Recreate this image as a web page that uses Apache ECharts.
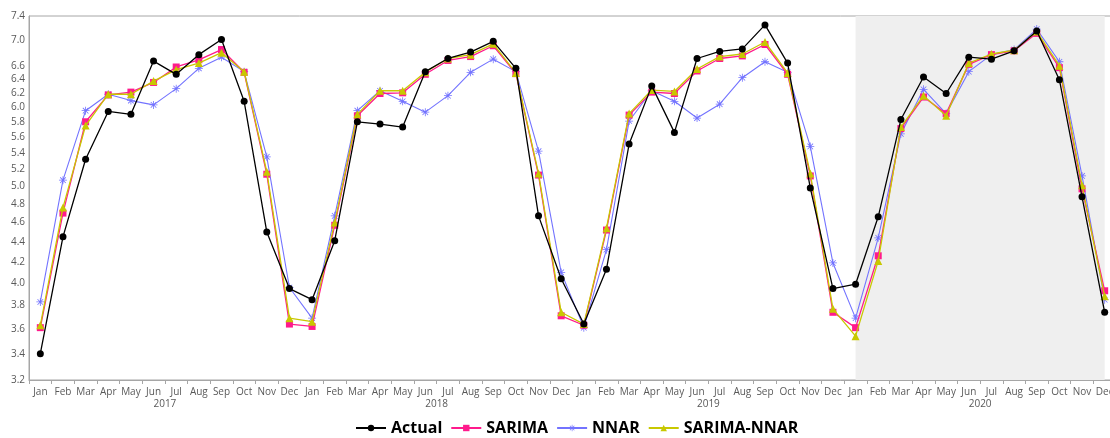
<!DOCTYPE html>
<html>
<head>
<meta charset="utf-8">
<script src="https://cdn.jsdelivr.net/npm/echarts@6/dist/echarts.min.js"></script>
<style>
html, body { margin: 0; padding: 0; background: #fff; }
#chart { width: 1110px; height: 438px; }
</style>
</head>
<body>
<div id="chart"></div>
<script>
var months = ['Jan', 'Feb', 'Mar', 'Apr', 'May', 'Jun', 'Jul', 'Aug', 'Sep', 'Oct', 'Nov', 'Dec'];
var years = ['2017', '2018', '2019', '2020'];
var yTicks = [3.2, 3.4, 3.6, 3.8, 4.0, 4.2, 4.4, 4.6, 4.8, 5.0, 5.2, 5.4, 5.6, 5.8, 6.0, 6.2, 6.4, 6.6, 7.0, 7.4];

var actual = [
    3.40, 4.45, 5.32, 5.94, 5.90, 6.67, 6.47, 6.77, 7.01, 6.08, 4.50, 3.95,
    3.85, 4.41, 5.80, 5.77, 5.73, 6.51, 6.71, 6.81, 6.98, 6.56, 4.67, 4.04,
    3.64, 4.13, 5.51, 6.30, 5.66, 6.71, 6.82, 6.86, 7.25, 6.64, 4.98, 3.95,
    3.99, 4.66, 5.83, 6.43, 6.19, 6.73, 6.70, 6.83, 7.15, 6.39, 4.88, 3.74
];
var sarima = [
    3.61, 4.70, 5.80, 6.17, 6.21, 6.35, 6.58, 6.69, 6.85, 6.50, 5.14, 3.64,
    3.62, 4.57, 5.88, 6.19, 6.20, 6.47, 6.68, 6.74, 6.91, 6.48, 5.13, 3.71,
    3.63, 4.52, 5.89, 6.21, 6.19, 6.52, 6.71, 6.75, 6.93, 6.47, 5.12, 3.74,
    3.61, 4.26, 5.71, 6.14, 5.91, 6.62, 6.77, 6.83, 7.11, 6.57, 4.97, 3.93
];
var nnar = [
    3.83, 5.07, 5.95, 6.18, 6.09, 6.03, 6.26, 6.56, 6.73, 6.51, 5.35, 3.96,
    3.69, 4.67, 5.95, 6.23, 6.08, 5.93, 6.16, 6.50, 6.70, 6.51, 5.42, 4.10,
    3.61, 4.32, 5.81, 6.23, 6.08, 5.85, 6.04, 6.42, 6.66, 6.50, 5.48, 4.19,
    3.69, 4.44, 5.64, 6.25, 5.91, 6.51, 6.77, 6.85, 7.18, 6.66, 5.12, 3.85
];
var hybrid = [
    3.63, 4.76, 5.75, 6.18, 6.18, 6.37, 6.54, 6.64, 6.80, 6.51, 5.17, 3.69,
    3.66, 4.60, 5.90, 6.23, 6.23, 6.50, 6.71, 6.77, 6.94, 6.49, 5.15, 3.74,
    3.64, 4.54, 5.91, 6.24, 6.22, 6.55, 6.74, 6.78, 6.97, 6.49, 5.15, 3.77,
    3.54, 4.21, 5.73, 6.16, 5.88, 6.64, 6.78, 6.84, 7.14, 6.60, 5.01, 3.88
];

// 48 monthly categories, 2017-2020
var cats = [];
years.forEach(function (y) {
    months.forEach(function (m) { cats.push(m + ' ' + y); });
});

var star = 'path://M-1,-10 L1,-10 L1,10 L-1,10 Z M-10,-1 L10,-1 L10,1 L-10,1 Z ' +
    'M-7.7,-6.3 L-6.3,-7.7 L7.7,6.3 L6.3,7.7 Z M6.3,-7.7 L7.7,-6.3 L-6.3,7.7 L-7.7,6.3 Z';

var labelFont = { color: '#595959', fontSize: 10, fontFamily: 'Open Sans' };

var chart = echarts.init(document.getElementById('chart'));
var option = {
    animation: false,
    grid: {
        left: 29, width: 1087, top: 16, bottom: 58,
        outerBoundsMode: 'none',
        show: true, borderColor: '#a6a6a6', borderWidth: 1
    },
    legend: {
        top: 415,
        left: 350,
        itemWidth: 30,
        itemHeight: 8,
        itemGap: 8,
        textStyle: { color: '#000', fontSize: 16, fontWeight: 'bold', fontFamily: 'Open Sans' },
        data: ['Actual', 'SARIMA', 'NNAR', 'SARIMA-NNAR']
    },
    xAxis: [
        {
            type: 'category',
            data: cats,
            axisLine: { lineStyle: { color: '#a6a6a6' } },
            axisTick: { show: true, length: 4, lineStyle: { color: '#a6a6a6' } },
            axisLabel: Object.assign({
                interval: 0,
                margin: 7,
                formatter: function (v) { return v.split(' ')[0]; }
            }, labelFont)
        },
        {
            type: 'category',
            data: years,
            position: 'bottom',
            offset: 11,
            axisLine: { show: false },
            axisTick: { show: false },
            axisLabel: Object.assign({ interval: 0 }, labelFont)
        }
    ],
    yAxis: {
        type: 'log',
        logBase: 10,
        min: 3.2,
        max: 7.4,
        splitLine: { show: false },
        axisLine: { show: true, lineStyle: { color: '#a6a6a6' } },
        axisTick: { show: false },
        axisLabel: Object.assign({
            customValues: yTicks,
            margin: 4,
            formatter: function (v) { return v.toFixed(1); }
        }, labelFont)
    },
    series: [
        {
            name: 'Actual', type: 'line', data: actual,
            symbol: 'circle', symbolSize: 7,
            itemStyle: { color: '#000' },
            lineStyle: { width: 1.3, color: '#000' },
            markArea: {
                silent: true,
                itemStyle: { color: '#efefef' },
                data: [[{ xAxis: 36 }, { xAxis: 47 }]]
            },
            z: 5
        },
        {
            name: 'SARIMA', type: 'line', data: sarima,
            symbol: 'rect', symbolSize: 7,
            itemStyle: { color: '#ff1a8c' },
            lineStyle: { width: 1.3, color: '#ff1a8c' },
            z: 3
        },
        {
            name: 'NNAR', type: 'line', data: nnar,
            symbol: star, symbolSize: 8,
            itemStyle: { color: '#7373ff' },
            lineStyle: { width: 1.1, color: '#7373ff' },
            z: 2
        },
        {
            name: 'SARIMA-NNAR', type: 'line', data: hybrid,
            symbol: 'triangle', symbolSize: 8,
            itemStyle: { color: '#c8c800' },
            lineStyle: { width: 1.3, color: '#c8c800' },
            z: 4
        }
    ]
};
chart.setOption(option);
</script>
</body>
</html>
